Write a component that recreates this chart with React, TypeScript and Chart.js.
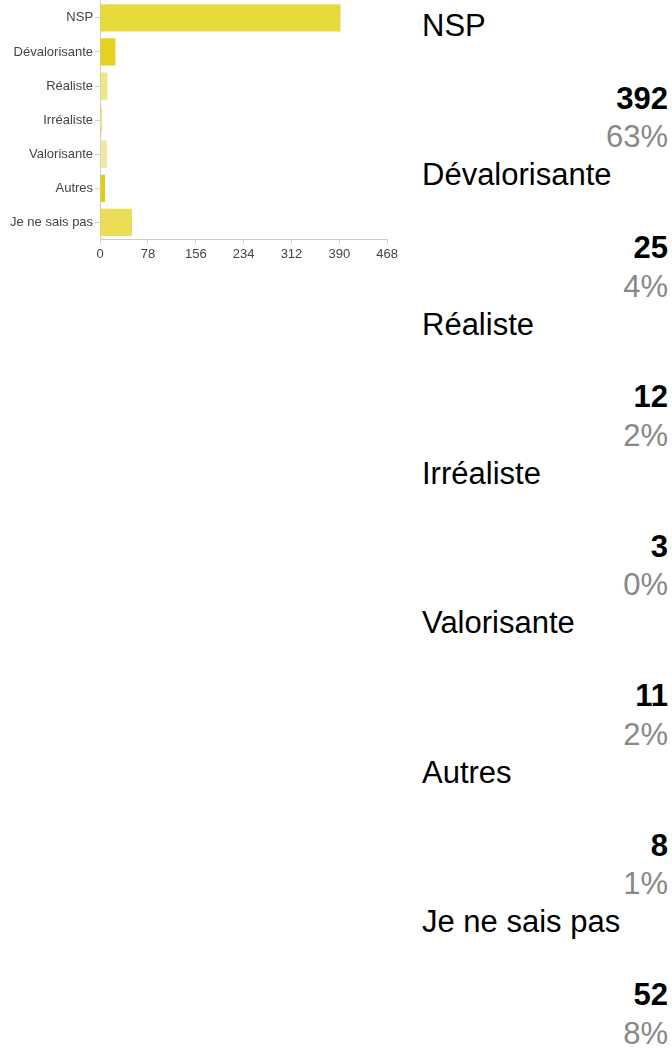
import React, { useEffect, useRef } from "react";
import { Chart, registerables } from "chart.js";

Chart.register(...registerables);

const categories = ["NSP", "Dévalorisante", "Réaliste", "Irréaliste", "Valorisante", "Autres", "Je ne sais pas"];
const counts = [392, 25, 12, 3, 11, 8, 52];
const percents = ["63%", "4%", "2%", "0%", "2%", "1%", "8%"];
const barColors = ["#e8da3b", "#e6d020", "#eee584", "#ece27a", "#f0e8a0", "#e3cd05", "#ebdd55"];
const xTicks = [0, 78, 156, 234, 312, 390, 468];

const FONT = "'Liberation Sans', Arial, Helvetica, sans-serif";

function BarChart() {
  const ref = useRef<HTMLCanvasElement | null>(null);
  useEffect(() => {
    if (!ref.current) return;
    const chart = new Chart(ref.current, {
      type: "bar",
      data: {
        labels: categories,
        datasets: [
          {
            data: counts,
            backgroundColor: barColors,
            borderWidth: 0,
            barPercentage: 0.8,
            categoryPercentage: 1,
          },
        ],
      },
      options: {
        indexAxis: "y",
        animation: false,
        responsive: true,
        maintainAspectRatio: false,
        layout: { padding: { left: 8, top: 0, right: 0, bottom: 0 } },
        plugins: { legend: { display: false }, tooltip: { enabled: false } },
        scales: {
          x: {
            min: 0,
            max: 468,
            afterBuildTicks: (axis: any) => {
              axis.ticks = xTicks.map((v) => ({ value: v }));
            },
            grid: {
              drawOnChartArea: false,
              drawTicks: true,
              tickLength: 4,
              color: "#cccccc",
            },
            border: { color: "#cccccc", width: 1 },
            ticks: {
              color: "#444444",
              font: { family: FONT, size: 13 },
              padding: 3,
              maxRotation: 0,
            },
          },
          y: {
            grid: {
              offset: false,
              drawOnChartArea: false,
              drawTicks: true,
              tickLength: 5,
              color: "#cccccc",
            },
            border: { color: "#cccccc", width: 1 },
            ticks: {
              color: "#444444",
              font: { family: FONT, size: 13 },
              padding: 2,
            },
          },
        },
      },
    });
    return () => chart.destroy();
  }, []);
  return (
    <div style={{ position: "absolute", left: 0, top: -9, width: 401, height: 274 }}>
      <canvas ref={ref} />
    </div>
  );
}

const PERIOD = 149.4;

export default function App() {
  return (
    <div style={{ position: "absolute", left: 0, top: 0, width: 672, height: 1050, overflow: "hidden", fontFamily: FONT }}>
      <BarChart />
      {categories.map((c, i) => (
        <div key={c} style={{ position: "absolute", left: 422, width: 246, top: 7.8 + i * PERIOD, height: PERIOD }}>
          <div style={{ fontSize: 31, lineHeight: "36px", height: 36, color: "#000", whiteSpace: "nowrap" }}>{c}</div>
          <div style={{ fontSize: 31, lineHeight: "36px", height: 36, color: "#000", fontWeight: "bold", textAlign: "right", marginTop: 36.8 }}>
            {counts[i]}
          </div>
          <div style={{ fontSize: 31, lineHeight: "36px", height: 36, color: "#888", textAlign: "right", marginTop: 2.7 }}>
            {percents[i]}
          </div>
        </div>
      ))}
    </div>
  );
}
